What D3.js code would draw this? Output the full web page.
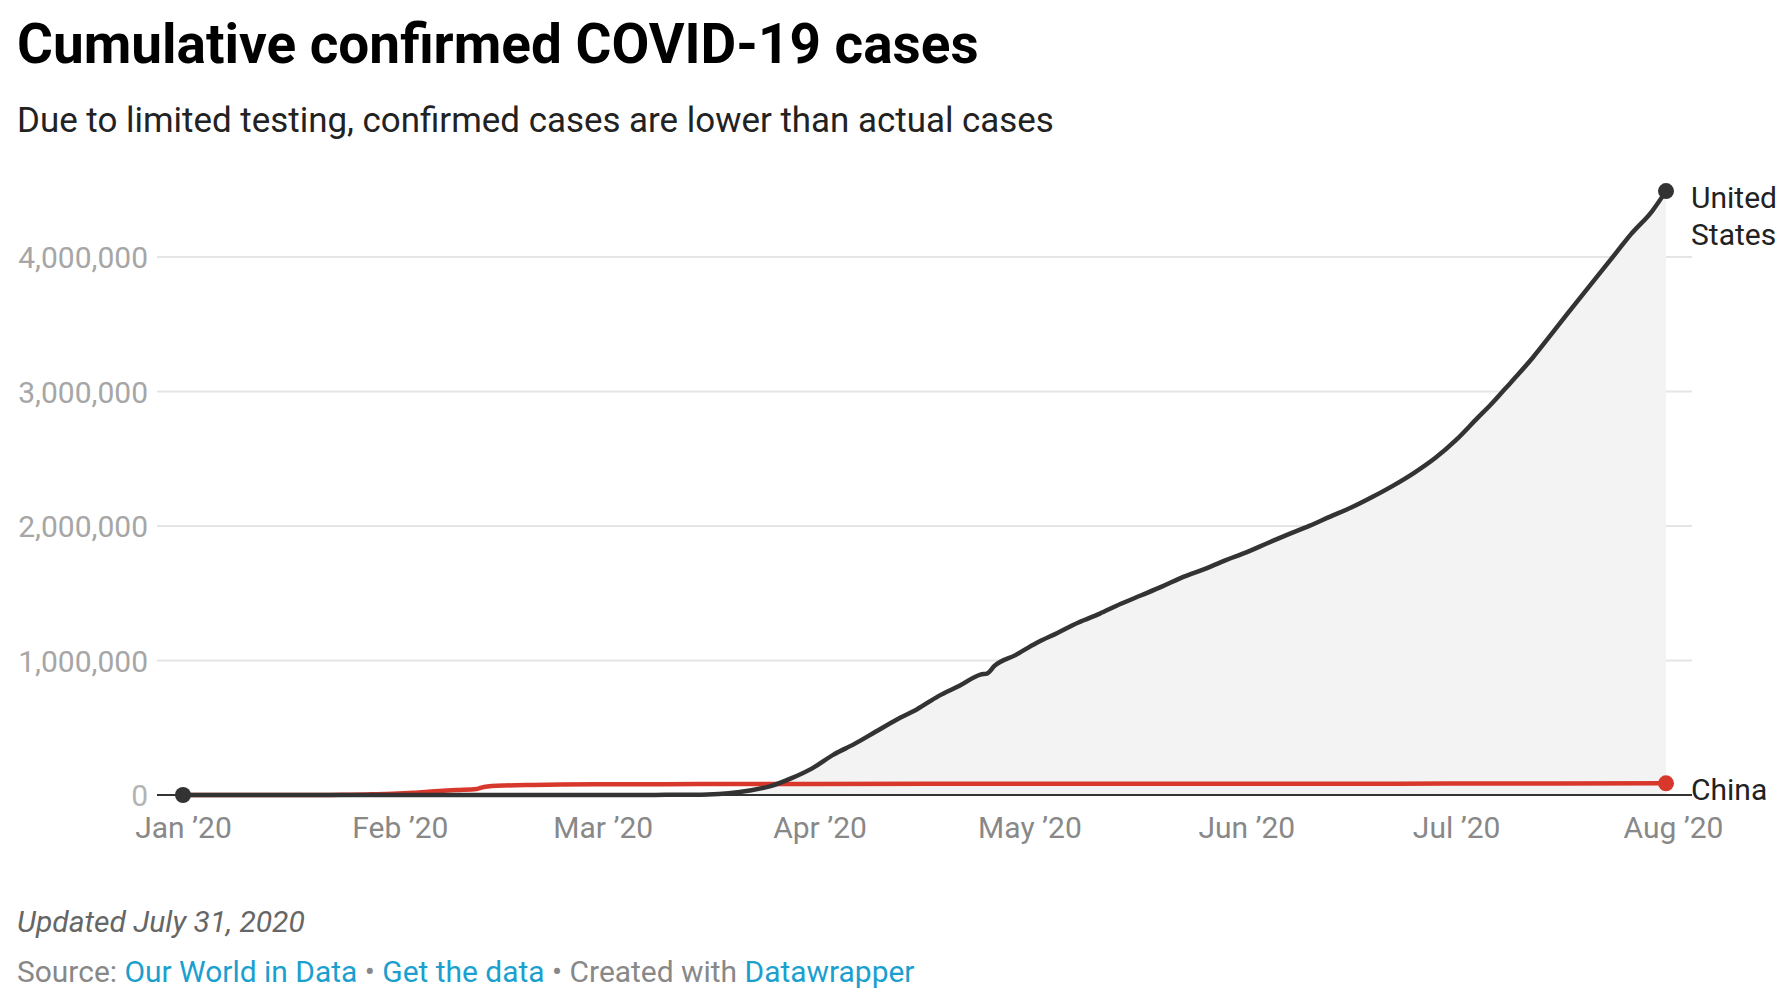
<!DOCTYPE html>
<html><head><meta charset="utf-8">
<script src="https://cdn.jsdelivr.net/npm/d3@7"></script>
<style>
html,body{margin:0;padding:0;background:#fff;}
svg{display:block;font-family:Roboto,"Noto Sans",sans-serif;}
</style></head>
<body>
<svg id="chart" width="1786" height="994"></svg>
<script>
// ---------- DATA ----------
const usDates = ["2020-01-01","2020-01-21","2020-02-01","2020-02-15","2020-03-01","2020-03-07","2020-03-10","2020-03-13","2020-03-16","2020-03-19","2020-03-22","2020-03-25","2020-03-28","2020-03-31","2020-04-03","2020-04-06","2020-04-09","2020-04-12","2020-04-15","2020-04-18","2020-04-21","2020-04-24","2020-04-25","2020-04-26","2020-04-29","2020-05-02","2020-05-05","2020-05-08","2020-05-11","2020-05-14","2020-05-17","2020-05-20","2020-05-23","2020-05-26","2020-05-29","2020-06-01","2020-06-04","2020-06-07","2020-06-10","2020-06-13","2020-06-16","2020-06-19","2020-06-22","2020-06-25","2020-06-28","2020-07-01","2020-07-04","2020-07-06","2020-07-08","2020-07-10","2020-07-12","2020-07-14","2020-07-17","2020-07-20","2020-07-22","2020-07-24","2020-07-26","2020-07-29","2020-07-31"];
const usValues = [0,1,8,15,75,400,960,2200,4600,13700,33300,65800,125000,200000,300000,380000,470000,560000,640000,735100,812000,895000,905000,960000,1040000,1130000,1205000,1283000,1347000,1420000,1485000,1551000,1622000,1680000,1745000,1804000,1872000,1938000,2001000,2070000,2137000,2215000,2300000,2395000,2505000,2640000,2800000,2905000,3020000,3135000,3255000,3385000,3585000,3780000,3910000,4040000,4170000,4340000,4490000];

const cnDates = ["2020-01-01","2020-01-18","2020-01-22","2020-01-25","2020-01-28","2020-01-31","2020-02-03","2020-02-06","2020-02-09","2020-02-12","2020-02-13","2020-02-16","2020-02-20","2020-02-24","2020-02-29","2020-03-10","2020-03-20","2020-03-31","2020-04-17","2020-05-15","2020-06-15","2020-06-30","2020-07-15","2020-07-31"];
const cnValues = [27,75,571,1975,5509,9802,17238,28060,37198,44653,59804,70548,74675,77262,79394,80778,81300,82301,83760,84038,84378,84785,85568,87000];

const yTicks = [0,1000000,2000000,3000000,4000000];
const xTickDates = ["2020-01-01","2020-02-01","2020-03-01","2020-04-01","2020-05-01","2020-06-01","2020-07-01","2020-08-01"];
const xTickLabels = ["Jan \u201920","Feb \u201920","Mar \u201920","Apr \u201920","May \u201920","Jun \u201920","Jul \u201920","Aug \u201920"];
const seriesNames = ["United States","China"];

// ---------- LAYOUT ----------
const svg = d3.select("#chart");
const parse = d3.timeParse("%Y-%m-%d");
const x = d3.scaleTime().domain([parse("2020-01-01"), parse("2020-08-01")]).range([183, 1673]);
const y = d3.scaleLinear().domain([0, 4000000]).range([795, 257]);
const gridX0 = 157, gridX1 = 1692;

function fit(sel, target){
  const n = sel.node(); const w = n.getComputedTextLength();
  const fs = parseFloat(sel.attr("font-size"));
  sel.attr("font-size", fs*target/w);
}

// title & subtitle
fit(svg.append("text").attr("x",17).attr("y",63).attr("font-size",55).attr("font-weight",700).attr("fill","#000")
  .text("Cumulative confirmed COVID-19 cases"), 962);
fit(svg.append("text").attr("x",17).attr("y",132).attr("font-size",32).attr("fill","#222")
  .text("Due to limited testing, confirmed cases are lower than actual cases"), 1037);

// gridlines
svg.append("g").selectAll("line").data(yTicks.filter(d=>d>0)).join("line")
  .attr("x1",gridX0).attr("x2",gridX1).attr("y1",d=>y(d)).attr("y2",d=>y(d))
  .attr("stroke","#e5e5e5").attr("stroke-width",2);

// y axis labels
const yAxis = d3.axisLeft(y).tickValues(yTicks).tickFormat(d3.format(",")).tickSize(0).tickPadding(0);
const ya = svg.append("g").attr("transform","translate(148,0)").call(yAxis);
ya.select(".domain").remove();
ya.selectAll("text").attr("font-size",30).attr("fill",d=>d===0?"#b3b3b3":"#a6a6a6").attr("font-family","Roboto").attr("dy","0.35em");

// data
const us = usDates.map((d,i)=>({date:parse(d), v:usValues[i]}));
const cn = cnDates.map((d,i)=>({date:parse(d), v:cnValues[i]}));

// area under US
svg.append("path").datum(us)
  .attr("d", d3.area().x(d=>x(d.date)).y0(y(0)).y1(d=>y(d.v)).curve(d3.curveMonotoneX))
  .attr("fill","#f3f3f3");

// baseline
svg.append("line").attr("x1",gridX0).attr("x2",gridX1).attr("y1",y(0)).attr("y2",y(0))
  .attr("stroke","#333").attr("stroke-width",2);

// x axis labels
const xAxis = d3.axisBottom(x).tickValues(xTickDates.map(parse)).tickFormat((d,i)=>xTickLabels[i]).tickSize(0).tickPadding(0);
const xa = svg.append("g").attr("transform","translate(0,838)").call(xAxis);
xa.select(".domain").remove();
xa.selectAll("text").attr("font-size",30).attr("fill","#888").attr("font-family","Roboto").attr("dy",0).attr("y",0);

const line = d3.line().x(d=>x(d.date)).y(d=>y(d.v)).curve(d3.curveMonotoneX);
// China line
svg.append("path").datum(cn).attr("d",line).attr("fill","none").attr("stroke","#d8372b").attr("stroke-width",4.5)
  .attr("stroke-linejoin","round").attr("stroke-linecap","round");
// US line
svg.append("path").datum(us).attr("d",line).attr("fill","none").attr("stroke","#333").attr("stroke-width",4.5)
  .attr("stroke-linejoin","round").attr("stroke-linecap","round");

// dots
svg.append("circle").attr("cx",x(us[0].date)).attr("cy",y(us[0].v)).attr("r",8).attr("fill","#333");
svg.append("circle").attr("cx",x(cn[cn.length-1].date)).attr("cy",y(cn[cn.length-1].v)).attr("r",8).attr("fill","#d8372b");
svg.append("circle").attr("cx",x(us[us.length-1].date)).attr("cy",y(us[us.length-1].v)).attr("r",8).attr("fill","#333");

// series labels
const lab = svg.append("g").attr("font-size",30).attr("fill","#222");
lab.append("text").attr("x",1691).attr("y",208).text("United");
lab.append("text").attr("x",1691).attr("y",245).text("States");
lab.append("text").attr("x",1691).attr("y",800).text(seriesNames[1]);

// footer
fit(svg.append("text").attr("x",17).attr("y",932).attr("font-size",29).attr("font-style","italic").attr("fill","#666")
  .text("Updated July 31, 2020"), 288);
const src = svg.append("text").attr("x",17).attr("y",982).attr("font-size",29).attr("fill","#888");
src.append("tspan").text("Source: ");
src.append("tspan").attr("fill","#1a9fcf").text("Our World in Data");
src.append("tspan").text(" \u2022 ");
src.append("tspan").attr("fill","#1a9fcf").text("Get the data");
src.append("tspan").text(" \u2022 Created with ");
src.append("tspan").attr("fill","#1a9fcf").text("Datawrapper");
fit(src, 898);
</script>
</body></html>
